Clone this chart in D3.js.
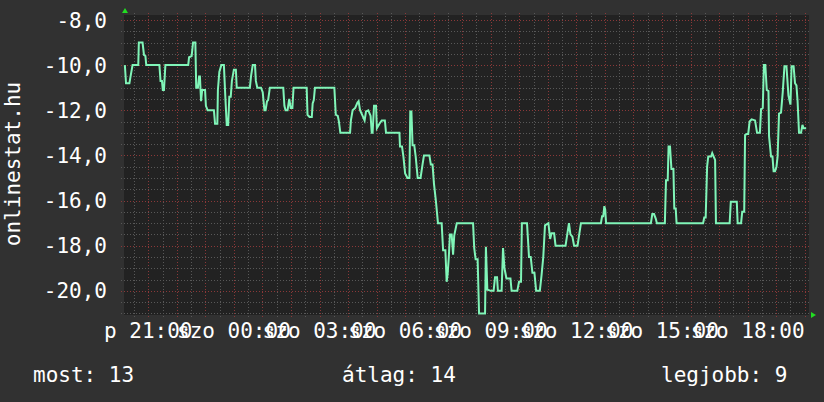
<!DOCTYPE html>
<html>
<head>
<meta charset="utf-8">
<script src="https://cdn.jsdelivr.net/npm/d3@7"></script>
<style>
html, body { margin: 0; background: #313131; }
svg { display: block; }
text { font-family: "DejaVu Sans Mono", monospace; fill: #ffffff; font-size: 21px; }
</style>
</head>
<body>
<svg id="chart" width="824" height="402"></svg>
<script>
/* rank of onlinestat.hu over the last 24h (hours counted from Friday 00:00),
   drawn as negative numbers like the original rrd graph */
const hours = [
  20.18, 20.22, 20.34, 20.38, 20.45, 20.65, 20.67, 20.80, 20.85, 20.90, 20.93,
  21.39, 21.43, 21.48, 21.51, 21.55, 21.60, 22.40, 22.43, 22.52, 22.57, 22.65,
  22.68, 22.74, 22.78, 22.81, 22.85, 22.89, 22.99, 23.02, 23.08, 23.30, 23.34,
  23.42, 23.44, 23.49, 23.56, 23.65, 23.70, 23.75, 23.80, 23.84, 23.89, 23.93,
  24.00, 24.07, 24.10, 24.56, 24.60, 24.66, 24.74, 24.77, 24.82, 24.95, 25.01,
  25.07, 25.11, 25.16, 25.20, 25.26, 25.73, 25.77, 25.81, 25.88, 25.94, 25.99,
  26.05, 26.09, 26.55, 26.58, 26.65, 26.73, 26.76, 26.80, 26.84, 27.52, 27.57,
  27.64, 27.68, 27.73, 28.07, 28.10, 28.16, 28.25, 28.33, 28.37, 28.42, 28.51,
  28.58, 28.63, 28.71, 28.79, 28.83, 28.86, 28.91, 28.98, 29.01, 29.10, 29.18,
  29.29, 29.33, 29.80, 29.82, 29.89, 29.94, 30.00, 30.08, 30.15, 30.18, 30.22,
  30.26, 30.32, 30.37, 30.44, 30.54, 30.61, 30.66, 30.85, 30.90, 30.96, 31.01,
  31.08, 31.15, 31.28, 31.33, 31.41, 31.455, 31.49, 31.53, 31.57, 31.63, 31.68,
  31.72, 31.81, 32.38, 32.42, 32.47, 32.54, 32.59, 32.80, 32.83, 32.88, 33.01,
  33.10, 33.15, 33.22, 33.25, 33.38, 33.43, 33.48, 33.55, 33.69, 33.73, 33.93,
  33.99, 34.06, 34.09, 34.27, 34.34, 34.40, 34.46, 34.53, 34.59, 34.72, 34.78,
  34.84, 34.90, 35.02, 35.08, 35.13, 35.22, 35.27, 35.62, 35.68, 35.74, 35.79,
  35.86, 35.92, 36.04, 36.10, 36.16, 36.86, 36.90, 36.94, 36.98, 37.01, 37.04,
  38.61, 38.66, 38.72, 38.78, 38.82, 39.10, 39.14, 39.20, 39.23, 39.28, 39.33,
  39.40, 39.43, 39.48, 39.51, 40.44, 40.48, 40.53, 40.58, 40.62, 40.72, 40.76,
  40.81, 40.86, 40.89, 41.37, 41.41, 41.62, 41.65, 41.77, 41.81, 41.88, 41.91,
  41.97, 42.02, 42.07, 42.14, 42.26, 42.33, 42.43, 42.47, 42.53, 42.57, 42.62,
  42.67, 42.73, 42.75, 42.82, 42.87, 42.91, 42.96, 43.01, 43.05, 43.10, 43.17,
  43.23, 43.29, 43.36, 43.43, 43.50, 43.54, 43.61, 43.66, 43.71, 43.75, 43.80,
  43.87, 43.92, 43.96, 44.05
];
const ranks = [
  -10, -10.8, -10.8, -10.5, -10, -10, -9, -9, -9.55, -9.6, -10,
  -10, -10.7, -10.7, -11.1, -11.1, -10, -10, -9.65, -9.6, -9, -9,
  -11, -11, -10.5, -10.5, -11.6, -11.1, -11.1, -11.8, -12, -12, -12.6,
  -12.6, -11.1, -10.3, -10, -10, -11.4, -12.65, -12.65, -11.4, -11.4, -10.7,
  -10.2, -10.2, -11, -11, -10.5, -10, -10, -10.7, -11, -11, -11.2,
  -12, -12, -11.6, -11.55, -11, -11, -11.8, -12, -12, -11.5, -11.9,
  -11.9, -11, -11, -12.2, -12.3, -12.3, -11.7, -11.55, -11, -11, -12.2,
  -12.25, -12.5, -13, -13, -12.45, -12, -11.9, -11.66, -11.6, -12, -12.25,
  -12.45, -12.05, -12, -12.25, -13, -13, -11.8, -11.8, -12.8, -12.6, -12.45,
  -12.45, -13, -13, -13.6, -13.6, -14.05, -14.8, -15, -15, -12.05, -12.05,
  -13.55, -13.55, -14.05, -15, -15, -14.4, -14, -14, -14.4, -14.4, -15.25,
  -16.05, -17, -17, -18.2, -18.2, -19.6, -19.25, -18.5, -17.5, -17.5, -18.4,
  -17.55, -17, -17, -18.1, -18.6, -18.6, -21, -21, -18.05, -19.95, -20,
  -20, -19.4, -19.4, -20, -20, -18.1, -19, -19.45, -19.45, -20, -20,
  -19.6, -19.6, -17, -17, -18.5, -18.5, -19.2, -19.2, -20, -20, -19.3,
  -18.5, -17.1, -17, -17.7, -17.45, -17.45, -18, -18, -17.5, -17, -17.5,
  -17.6, -18, -18, -17.5, -17, -17, -16.7, -16.7, -16.25, -16.4, -17,
  -17, -16.6, -16.6, -16.8, -17, -17, -15.1, -15.1, -13.6, -13.6, -14.6,
  -14.6, -16.35, -16.35, -17, -17, -16.75, -16.75, -14.5, -14.05, -14.05, -13.9,
  -14.05, -14.2, -17, -17, -16.05, -16.05, -17, -17, -16.5, -16.5, -13.1,
  -13.05, -13.05, -12.5, -12.4, -12.45, -13, -13, -11.95, -11.9, -10, -10,
  -11.1, -11.15, -13.15, -14.05, -14.05, -14.7, -14.7, -14.5, -14.05, -12.15, -12.1,
  -11.2, -10.05, -10.05, -11.35, -11.75, -10.05, -10.05, -10.8, -10.9, -11.6, -13,
  -13, -12.65, -12.8, -12.8
];

const timeDomain = [20.15, 44.15];
const rankDomain = [-21.07, -7.78];
const tickHours = [21, 24, 27, 30, 33, 36, 39, 42];
const tickLabels = ["p 21:00", "szo 00:00", "szo 03:00", "szo 06:00",
                    "szo 09:00", "szo 12:00", "szo 15:00", "szo 18:00"];
const yTicks = [-8, -10, -12, -14, -16, -18, -20];
const yTitle = "onlinestat.hu";
const legendLabels = ["most: 13", "átlag: 14", "legjobb: 9"];

const LEFT = 124, RIGHT = 809, TOP = 15, BOTTOM = 315;
const LINE_COLOR = '#80f5b8';
const MINOR = '#585858', MAJOR = '#8a3838';

const svg = d3.select('#chart');

const x = d3.scaleLinear().domain(timeDomain).range([LEFT, RIGHT]);
const y = d3.scaleLinear().domain(rankDomain).range([BOTTOM, TOP]);
const comma = d3.formatLocale({decimal: ',', thousands: ' ', grouping: [3],
                               currency: ['', ''], minus: '-'}).format('.1f');

svg.append('rect')
    .attr('width', 824).attr('height', 402)
    .attr('fill', '#313131');
svg.append('rect')
    .attr('x', LEFT).attr('y', TOP)
    .attr('width', RIGHT - LEFT).attr('height', BOTTOM - TOP)
    .attr('fill', '#222222');

/* grid: half steps are grey, whole hours / even ranks are red */
const crisp = v => Math.round(v) + 0.5;
const grid = svg.append('g').attr('stroke-dasharray', '1,2').attr('stroke-width', 1);

const vLines = d3.range(20.5, timeDomain[1], 0.5);
grid.selectAll('line.v')
    .data(vLines)
    .join('line')
    .attr('class', 'v')
    .attr('x1', d => crisp(x(d))).attr('x2', d => crisp(x(d)))
    .attr('y1', TOP - 2).attr('y2', BOTTOM + 3)
    .attr('stroke', d => Number.isInteger(d) ? MAJOR : MINOR);

const hLines = d3.range(-21, rankDomain[1], 0.5);
grid.selectAll('line.h')
    .data(hLines)
    .join('line')
    .attr('class', 'h')
    .attr('y1', d => crisp(y(d))).attr('y2', d => crisp(y(d)))
    .attr('x1', LEFT - 3).attr('x2', RIGHT + 2)
    .attr('stroke', d => (Number.isInteger(d) && d % 2 === 0) ? MAJOR : MINOR);

/* the series */
const points = hours.map((h, i) => ({h: h, v: ranks[i]}));
svg.append('path')
    .datum(points)
    .attr('fill', 'none')
    .attr('stroke', LINE_COLOR)
    .attr('stroke-width', 2)
    .attr('d', d3.line().x(d => x(d.h)).y(d => y(d.v)));

/* axis arrows */
svg.append('path')
    .attr('d', `M${LEFT - 2},${TOP - 2}L${LEFT + 4},${TOP - 2}L${LEFT + 1},${TOP - 7}Z`)
    .attr('fill', '#22dd22');
svg.append('path')
    .attr('d', `M${RIGHT + 2},${BOTTOM - 3}L${RIGHT + 2},${BOTTOM + 3}L${RIGHT + 7},${BOTTOM}Z`)
    .attr('fill', '#22dd22');

/* labels */
svg.append('g')
    .selectAll('text')
    .data(yTicks)
    .join('text')
    .attr('x', 107)
    .attr('y', d => y(d))
    .attr('dy', '0.36em')
    .attr('text-anchor', 'end')
    .text(d => comma(d));

svg.append('g')
    .selectAll('text')
    .data(tickHours)
    .join('text')
    .attr('x', d => x(d))
    .attr('y', 338)
    .attr('text-anchor', 'middle')
    .text((d, i) => tickLabels[i]);

svg.append('text')
    .attr('transform', 'translate(20,164) rotate(-90)')
    .attr('text-anchor', 'middle')
    .text(yTitle);

const legendX = [33, 342, 661];
svg.append('g')
    .selectAll('text')
    .data(legendLabels)
    .join('text')
    .attr('x', (d, i) => legendX[i])
    .attr('y', 382)
    .text(d => d);
</script>
</body>
</html>
